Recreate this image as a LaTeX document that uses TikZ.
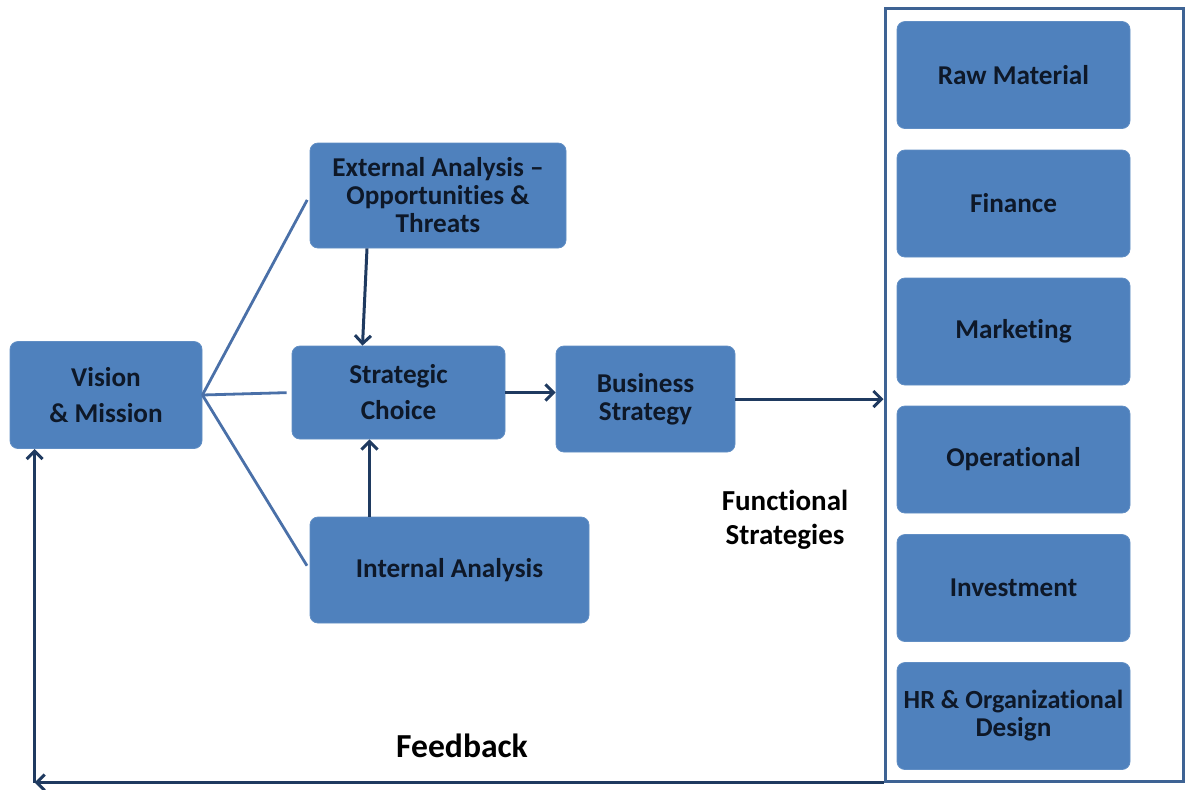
\documentclass[tikz,border=0pt]{standalone}
\usepackage{fontspec}
\setmainfont{Carlito}[Ligatures=NoCommon]
\usepackage{tikz}
\usetikzlibrary{positioning,calc,arrows.meta}
\definecolor{boxblue}{HTML}{4F81BD}
\definecolor{linkblue}{HTML}{4A70A8}
\definecolor{arrownavy}{HTML}{1F3A60}
\definecolor{framenavy}{HTML}{3E6394}
\definecolor{inktext}{HTML}{0E1828}
\tikzset{
	box/.style={fill=boxblue, draw=boxblue!90!white, rounded corners=4pt, align=center,
		font=\fontsize{13.6}{14}\selectfont\bfseries, text=inktext, inner sep=2pt},
	label text/.style={font=\fontsize{14.5}{17}\selectfont\bfseries, text=black, align=center}
}
\newcommand{\mybox}[6][]
{
	\node [box, minimum width=#4, minimum height=#5] (#1) at (#2, #3) {#6};
}
\newcommand{\wlink}[2]
{
	% plain line, stops just short of the box
	\path [draw=linkblue, line width=1.4pt, shorten >=2.5pt] (#1) -- (#2);
}
\newcommand{\warrow}[2]
{
	\path [draw=arrownavy, line width=1.5pt, -{Straight Barb[length=4pt,width=8pt]}] (#1) -- (#2);
}

\begin{document}
\begin{tikzpicture}[x=0.5pt, y=-0.5pt]
		\useasboundingbox (0,0) rectangle (1185,789);
		\mybox[vision]{106}{395}{96pt}{53.5pt}{Vision\\[4pt]\& Mission}
		\mybox[ext]{438}{195.5}{128pt}{52.5pt}{External Analysis --\\Opportunities \&\\Threats}
		\mybox[strat]{398.5}{392.5}{106.5pt}{46.5pt}{Strategic\\[4pt]Choice}
		\mybox[int]{449.5}{570}{139.5pt}{53pt}{Internal Analysis}
		\mybox[bus]{645.5}{399}{89.5pt}{53pt}{Business\\Strategy}
		
		\node [draw=framenavy, line width=1.5pt, minimum width=149pt, minimum height=386.5pt, inner sep=0pt] (panel) at (1034, 394.5) {};
		\mybox[raw]{1013.5}{75}{116.5pt}{53.5pt}{Raw Material}
		\mybox[fin]{1013.5}{203.5}{116.5pt}{53.5pt}{Finance}
		\mybox[mkt]{1013.5}{331.5}{116.5pt}{53.5pt}{Marketing}
		\mybox[ops]{1013.5}{459.5}{116.5pt}{53.5pt}{Operational}
		\mybox[inv]{1013.5}{588}{116.5pt}{53.5pt}{Investment}
		\mybox[hr]{1013.5}{716}{116.5pt}{53.5pt}{\fontsize{13.1}{14}\selectfont HR \& Organizational\\Design}
		
		\node [label text] (func) at (785, 520) {Functional\\Strategies};
		\node [label text, font=\fontsize{16.8}{17}\selectfont\bfseries] (fb) at (462, 746) {Feedback};
		
		\wlink{vision.east}{ext.west}
		\wlink{vision.east}{strat.west}
		\wlink{vision.east}{int.west}
		
		\warrow{$(ext.south)+(-71,0)$}{$(strat.north)+(-36,0)$}
		\path ($(int.north)+(-80,0)$) coordinate (intup);
		\warrow{intup}{intup |- strat.south}
		\warrow{strat.east}{strat.east -| bus.west}
		\warrow{bus.east}{bus.east -| panel.west}
		
		\path ($(vision.south west)+(25,0)$) coordinate (fbtop);
		\coordinate (corner) at (fbtop |- panel.south);
		\warrow{panel.south west}{corner}
		\warrow{corner}{fbtop}
		\end{tikzpicture}
\end{document}
